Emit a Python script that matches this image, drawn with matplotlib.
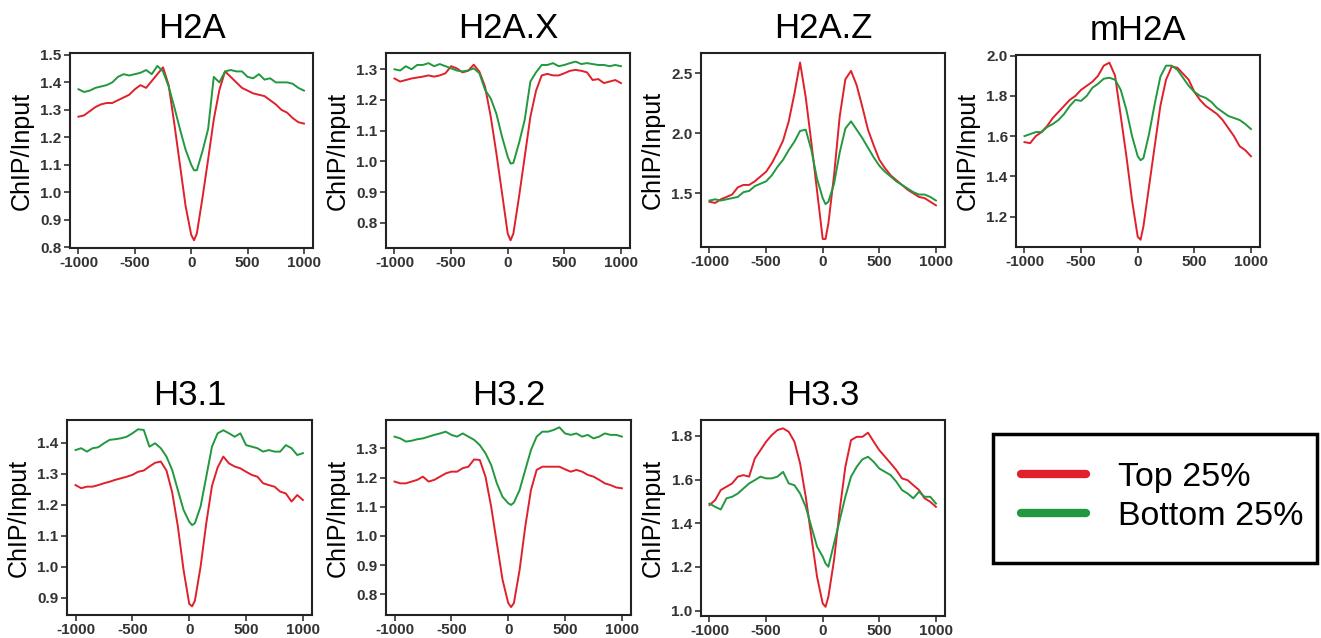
import matplotlib
matplotlib.use('Agg')
import matplotlib.pyplot as plt
from matplotlib.ticker import FormatStrFormatter
from matplotlib.lines import Line2D
from matplotlib.patches import Rectangle

plt.rcParams['font.family'] = ['Liberation Sans', 'DejaVu Sans']
plt.rcParams['axes.unicode_minus'] = False

# distance from TSS (bp)
pos = [-1000, -950, -900, -850, -800, -750, -700, -650, -600, -550,
       -500, -450, -400, -350, -300, -250, -200, -150, -100, -50,
       0, 25,
       50, 100, 150, 200, 250, 300, 350, 400, 450, 500,
       550, 600, 650, 700, 750, 800, 850, 900, 950, 1000]

# ChIP/Input, top 25% expressed genes
h2a_top = [1.275, 1.28, 1.295, 1.31, 1.32, 1.325, 1.325, 1.335, 1.345, 1.355,
           1.375, 1.39, 1.38, 1.405, 1.43, 1.455, 1.39, 1.25, 1.10, 0.95,
           0.845, 0.825,
           0.85, 0.98, 1.12, 1.265, 1.373, 1.44, 1.42, 1.40, 1.38, 1.37,
           1.36, 1.355, 1.35, 1.335, 1.32, 1.30, 1.29, 1.27, 1.255, 1.25]
h2ax_top = [1.27, 1.26, 1.265, 1.27, 1.273, 1.276, 1.28, 1.276, 1.28, 1.287,
            1.31, 1.303, 1.29, 1.295, 1.315, 1.292, 1.243, 1.146, 1.026, 0.896,
            0.765, 0.743,
            0.765, 0.885, 1.015, 1.145, 1.23, 1.28, 1.285, 1.28, 1.28, 1.287,
            1.295, 1.298, 1.295, 1.29, 1.265, 1.268, 1.255, 1.26, 1.265, 1.255]
h2az_top = [1.43, 1.42, 1.45, 1.47, 1.49, 1.55, 1.57, 1.57, 1.60, 1.64,
            1.68, 1.75, 1.84, 1.94, 2.10, 2.33, 2.59, 2.30, 1.92, 1.52,
            1.12, 1.12,
            1.25, 1.65, 2.14, 2.45, 2.52, 2.40, 2.22, 2.03, 1.90, 1.78,
            1.71, 1.65, 1.61, 1.57, 1.53, 1.50, 1.47, 1.46, 1.43, 1.40]
mh2a_top = [1.57, 1.565, 1.60, 1.62, 1.65, 1.69, 1.72, 1.75, 1.78, 1.80,
            1.83, 1.85, 1.87, 1.90, 1.95, 1.965, 1.90, 1.70, 1.50, 1.28,
            1.10, 1.085,
            1.15, 1.35, 1.55, 1.75, 1.88, 1.945, 1.94, 1.91, 1.88, 1.82,
            1.78, 1.75, 1.73, 1.71, 1.68, 1.64, 1.60, 1.55, 1.53, 1.50]
h31_top = [1.263, 1.253, 1.258, 1.258, 1.263, 1.269, 1.274, 1.28, 1.285, 1.29,
           1.296, 1.306, 1.31, 1.323, 1.335, 1.339, 1.31, 1.24, 1.13, 0.99,
           0.88, 0.872,
           0.89, 1.00, 1.14, 1.26, 1.32, 1.355, 1.333, 1.323, 1.317, 1.306,
           1.296, 1.29, 1.269, 1.263, 1.258, 1.242, 1.236, 1.21, 1.231, 1.215]
h32_top = [1.186, 1.18, 1.18, 1.186, 1.192, 1.203, 1.186, 1.192, 1.203, 1.214,
           1.22, 1.22, 1.232, 1.237, 1.262, 1.26, 1.203, 1.10, 0.975, 0.85,
           0.77, 0.756,
           0.77, 0.883, 1.032, 1.157, 1.226, 1.237, 1.237, 1.237, 1.237, 1.228,
           1.22, 1.226, 1.22, 1.209, 1.203, 1.192, 1.18, 1.174, 1.166, 1.163]
h33_top = [1.483, 1.506, 1.552, 1.567, 1.582, 1.613, 1.62, 1.613, 1.696, 1.734,
           1.773, 1.803, 1.826, 1.834, 1.818, 1.773, 1.674, 1.521, 1.338, 1.155,
           1.033, 1.018,
           1.064, 1.232, 1.46, 1.658, 1.78, 1.795, 1.795, 1.814, 1.773, 1.734,
           1.704, 1.674, 1.643, 1.605, 1.597, 1.574, 1.552, 1.514, 1.498, 1.475]

# ChIP/Input, bottom 25% expressed genes
h2a_bottom = [1.375, 1.365, 1.37, 1.38, 1.385, 1.39, 1.40, 1.42, 1.43, 1.425,
              1.43, 1.435, 1.445, 1.43, 1.46, 1.44, 1.385, 1.31, 1.23, 1.155,
              1.10, 1.08,
              1.08, 1.15, 1.23, 1.42, 1.40, 1.44, 1.445, 1.44, 1.44, 1.42,
              1.415, 1.43, 1.41, 1.415, 1.40, 1.40, 1.40, 1.395, 1.38, 1.37]
h2ax_bottom = [1.30, 1.296, 1.31, 1.30, 1.314, 1.314, 1.32, 1.31, 1.317, 1.31,
               1.303, 1.296, 1.293, 1.296, 1.303, 1.287, 1.233, 1.205, 1.155, 1.08,
               1.015, 0.993,
               0.995, 1.06, 1.135, 1.26, 1.29, 1.314, 1.314, 1.32, 1.31, 1.314,
               1.32, 1.325, 1.317, 1.32, 1.317, 1.314, 1.314, 1.31, 1.314, 1.31]
h2az_bottom = [1.44, 1.45, 1.44, 1.45, 1.46, 1.47, 1.51, 1.52, 1.56, 1.58,
               1.60, 1.65, 1.72, 1.78, 1.86, 1.93, 2.02, 2.03, 1.86, 1.62,
               1.46, 1.41,
               1.43, 1.58, 1.84, 2.04, 2.10, 2.03, 1.96, 1.88, 1.80, 1.73,
               1.68, 1.64, 1.60, 1.57, 1.54, 1.51, 1.49, 1.49, 1.47, 1.44]
mh2a_bottom = [1.60, 1.61, 1.62, 1.62, 1.645, 1.66, 1.68, 1.71, 1.75, 1.78,
               1.775, 1.80, 1.84, 1.86, 1.885, 1.89, 1.88, 1.83, 1.73, 1.60,
               1.50, 1.48,
               1.49, 1.61, 1.76, 1.895, 1.95, 1.95, 1.93, 1.89, 1.85, 1.82,
               1.80, 1.79, 1.77, 1.74, 1.72, 1.70, 1.69, 1.68, 1.66, 1.635]
h31_bottom = [1.376, 1.382, 1.371, 1.382, 1.385, 1.398, 1.409, 1.411, 1.414, 1.419,
              1.43, 1.443, 1.441, 1.387, 1.398, 1.382, 1.355, 1.312, 1.247, 1.183,
              1.145, 1.134,
              1.14, 1.194, 1.29, 1.387, 1.43, 1.44, 1.43, 1.419, 1.43, 1.392,
              1.387, 1.382, 1.371, 1.376, 1.371, 1.371, 1.392, 1.382, 1.36, 1.366]
h32_bottom = [1.34, 1.334, 1.323, 1.326, 1.331, 1.334, 1.34, 1.346, 1.351, 1.357,
              1.346, 1.34, 1.351, 1.34, 1.329, 1.311, 1.283, 1.243, 1.18, 1.134,
              1.112, 1.106,
              1.114, 1.157, 1.226, 1.294, 1.34, 1.357, 1.357, 1.363, 1.372, 1.351,
              1.346, 1.351, 1.34, 1.346, 1.334, 1.34, 1.351, 1.346, 1.346, 1.34]
h33_bottom = [1.49, 1.475, 1.463, 1.514, 1.521, 1.536, 1.559, 1.582, 1.597, 1.613,
              1.605, 1.605, 1.613, 1.635, 1.582, 1.574, 1.536, 1.475, 1.384, 1.293,
              1.247, 1.216,
              1.201, 1.308, 1.414, 1.521, 1.613, 1.658, 1.692, 1.704, 1.681, 1.65,
              1.635, 1.62, 1.59, 1.552, 1.536, 1.514, 1.544, 1.521, 1.521, 1.49]

names = ['H2A', 'H2A.X', 'H2A.Z', 'mH2A', 'H3.1', 'H3.2', 'H3.3']
tops = [h2a_top, h2ax_top, h2az_top, mh2a_top, h31_top, h32_top, h33_top]
bottoms = [h2a_bottom, h2ax_bottom, h2az_bottom, mh2a_bottom,
           h31_bottom, h32_bottom, h33_bottom]
yticks = [[0.8, 0.9, 1.0, 1.1, 1.2, 1.3, 1.4, 1.5],
          [0.8, 0.9, 1.0, 1.1, 1.2, 1.3],
          [1.5, 2.0, 2.5],
          [1.2, 1.4, 1.6, 1.8, 2.0],
          [0.9, 1.0, 1.1, 1.2, 1.3, 1.4],
          [0.8, 0.9, 1.0, 1.1, 1.2, 1.3],
          [1.0, 1.2, 1.4, 1.6, 1.8]]
ylims = [(0.797, 1.507), (0.718, 1.353), (1.053, 2.669), (1.049, 2.003),
         (0.844, 1.473), (0.729, 1.397), (0.976, 1.872)]
xticks = [-1000, -500, 0, 500, 1000]

RED = '#e0202a'
GREEN = '#22983f'

W, H = 1321, 638
fig = plt.figure(figsize=(W / 100, H / 100), dpi=100)

# axes boxes in pixels: left, right, top, bottom
boxes = [(70, 313, 53, 248), (386, 630, 53, 248), (701, 945, 53, 247),
         (1016, 1260, 55, 247), (67, 312, 420, 615), (386, 631, 420, 615),
         (701, 945, 420, 616)]

for i, name in enumerate(names):
    l, r, t, b = boxes[i]
    ax = fig.add_axes([l / W, 1 - b / H, (r - l) / W, (b - t) / H])
    ax.plot(pos, tops[i], color=RED, lw=1.4)
    ax.plot(pos, bottoms[i], color=GREEN, lw=1.4)
    ax.set_xlim(-1075, 1080)
    ax.set_ylim(*ylims[i])
    ax.set_xticks(xticks)
    ax.set_yticks(yticks[i])
    ax.yaxis.set_major_formatter(FormatStrFormatter('%.1f'))
    ax.set_title(name, fontsize=25, pad=11)
    ax.set_ylabel('ChIP/Input', fontsize=18, labelpad=5)
    ax.tick_params(direction='out', length=4, width=1.2, labelsize=11,
                   colors='#333333', pad=2)
    plt.setp(ax.get_xticklabels() + ax.get_yticklabels(), fontweight='bold')
    for sp in ax.spines.values():
        sp.set_linewidth(1.5)
        sp.set_color('#222222')

handles = [Line2D([], [], color=RED, lw=6, solid_capstyle='round'),
           Line2D([], [], color=GREEN, lw=6, solid_capstyle='round')]
fig.legend(handles, ['Top 25%', 'Bottom 25%'], loc='upper left',
           bbox_to_anchor=(1021 / W, 1 - 462 / H), frameon=False, fontsize=24.5,
           handlelength=1.9, handletextpad=0.95, labelspacing=0.24,
           borderpad=0, borderaxespad=0)
fig.add_artist(Rectangle((993 / W, 1 - 563 / H), (1317 - 993) / W, 129 / H,
                         transform=fig.transFigure, fill=False, lw=2.5,
                         ec='black'))

fig.savefig('out.png', dpi=100)
